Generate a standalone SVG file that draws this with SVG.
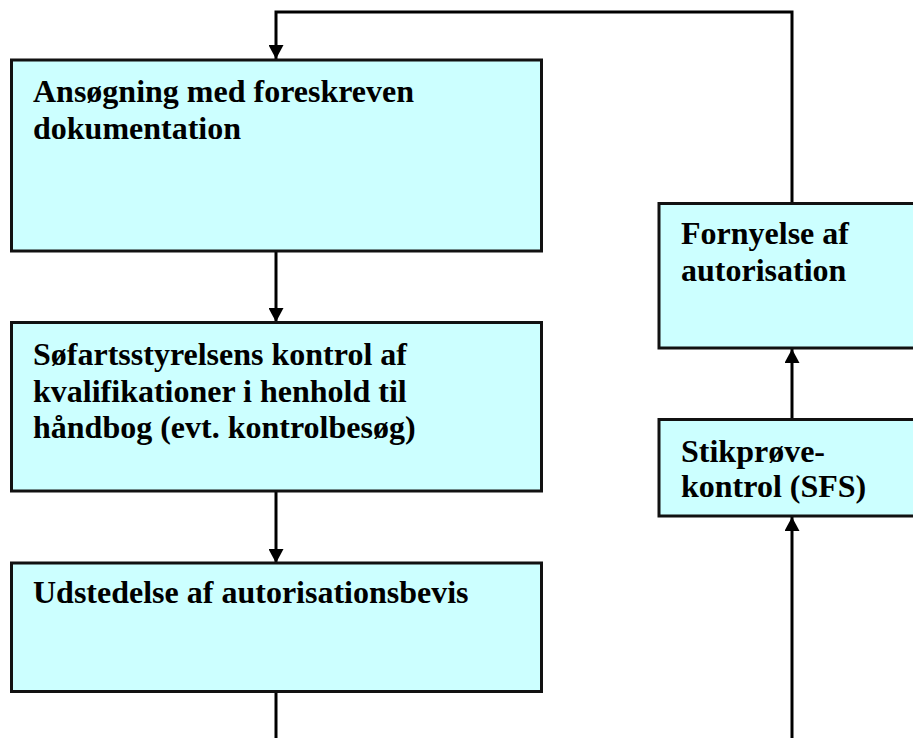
<svg xmlns="http://www.w3.org/2000/svg" width="913" height="738" viewBox="0 0 913 738">
<defs>
<style>
.box{fill:#CCFFFF;stroke:#111;stroke-width:3}
.t{font-family:"Liberation Serif","Times New Roman",serif;font-weight:bold;font-size:32px;fill:#000}
.c{fill:none;stroke:#000;stroke-width:3}
</style>
<marker id="ah" markerWidth="14" markerHeight="15" refX="14" refY="7.5" orient="auto" markerUnits="userSpaceOnUse">
<path d="M0,0 L14,7.5 L0,15 Z" fill="#000"/>
</marker>
</defs>
<rect width="913" height="738" fill="#fff"/>
<g id="connectors">
<path class="c" d="M792,203 V12 H276 V59" marker-end="url(#ah)"/>
<path class="c" d="M276,252 V322" marker-end="url(#ah)"/>
<path class="c" d="M276,492 V563" marker-end="url(#ah)"/>
<path class="c" d="M276,692 V740"/>
<path class="c" d="M792,740 V517" marker-end="url(#ah)"/>
<path class="c" d="M792,419 V349" marker-end="url(#ah)"/>
</g>
<g id="n1">
<rect class="box" x="11.5" y="60" width="530" height="191"/>
<text class="t" x="33" y="102">Ansøgning med foreskreven</text>
<text class="t" x="33" y="139">dokumentation</text>
</g>
<g id="n2">
<rect class="box" x="11.5" y="322.5" width="530" height="168.5"/>
<text class="t" x="33" y="365">Søfartsstyrelsens kontrol af</text>
<text class="t" x="33" y="402">kvalifikationer i henhold til</text>
<text class="t" x="33" y="438">håndbog (evt. kontrolbesøg)</text>
</g>
<g id="n3">
<rect class="box" x="11.5" y="563" width="530" height="128.5"/>
<text class="t" x="33" y="603">Udstedelse af autorisationsbevis</text>
</g>
<g id="n4">
<rect class="box" x="659" y="203.5" width="270" height="144.5"/>
<text class="t" x="681" y="244">Fornyelse af</text>
<text class="t" x="681" y="281">autorisation</text>
</g>
<g id="n5">
<rect class="box" x="659" y="419.5" width="270" height="96.5"/>
<text class="t" x="681" y="462">Stikprøve-</text>
<text class="t" x="681" y="497">kontrol (SFS)</text>
</g>
</svg>
